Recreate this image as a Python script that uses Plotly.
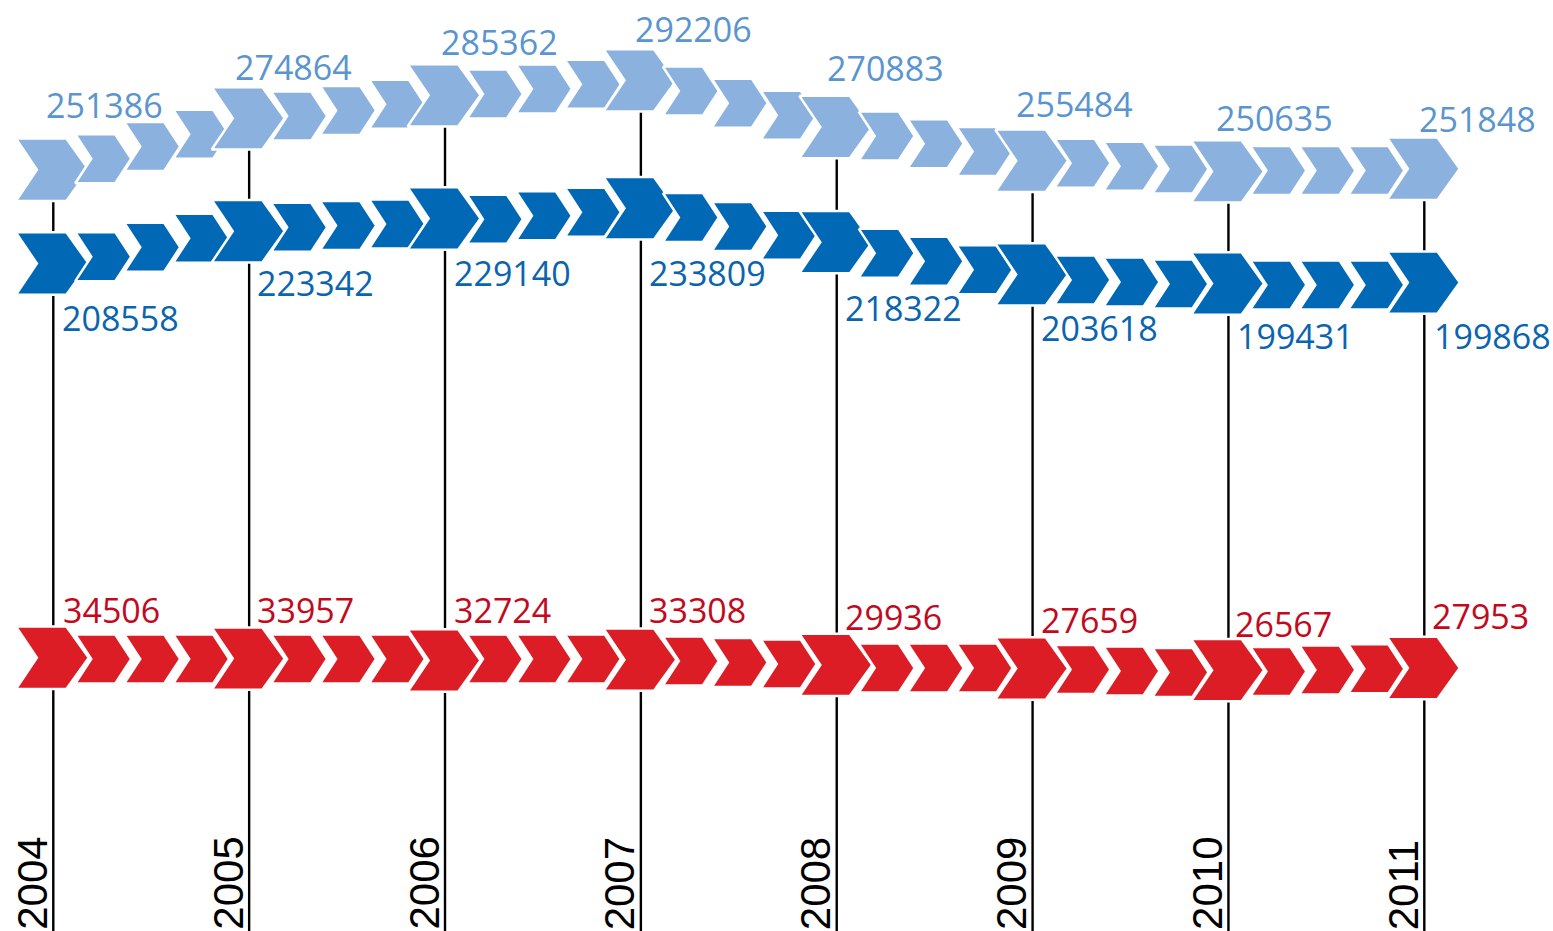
import plotly.graph_objects as go

# ---------------- data ----------------
years = [2004, 2005, 2006, 2007, 2008, 2009, 2010, 2011]
year_labels = ["2004", "2005", "2006", "2007", "2008", "2009", "2010", "2011"]

light_values = [251386, 274864, 285362, 292206, 270883, 255484, 250635, 251848]
dark_values = [208558, 223342, 229140, 233809, 218322, 203618, 199431, 199868]
red_values = [34506, 33957, 32724, 33308, 29936, 27659, 26567, 27953]

# small connector chevrons (3 between each pair of years), levels
light_steps = [256400, 262000, 267600, 275900, 278500, 281300, 286000, 288300, 290400,
               287300, 281800, 276300, 266800, 263300, 259700, 254400, 253000, 251700,
               251000, 251000, 251000]
dark_steps = [211700, 216000, 220100, 225100, 225900, 226600, 228800, 230400, 232000,
              229600, 225500, 221500, 213300, 209600, 205700, 201100, 200100, 199200,
              198800, 198800, 198800]
red_steps = [33700, 33700, 33700, 33700, 33700, 33700, 33700, 33700, 33700,
             32400, 31500, 30500, 27900, 27900, 27900, 27000, 26000, 25100,
             25700, 26700, 27400]

# ---------------- layout / style ----------------
W, H = 1553, 931
X_RANGE = [2003.7279, 2011.6571]
BLUE_RANGE = [-96200, 328900]
RED_RANGE = [-140760, 456420]

LIGHT = "#8BB2DF"
DARK = "#0068B4"
RED = "#DC1D25"
LIGHT_TXT = "#5A95CF"
DARK_TXT = "#0A64AE"
RED_TXT = "#C20A1E"

px_per_year = W / (X_RANGE[1] - X_RANGE[0])
blue_upp = (BLUE_RANGE[1] - BLUE_RANGE[0]) / H
red_upp = (RED_RANGE[1] - RED_RANGE[0]) / H

BIG = dict(l=-37.4, n=-16.4, tr=13.1, tip=35.5, h=31.2)
SMALL = dict(l=-27.0, n=-11.0, tr=13.0, tip=29.0, h=24.5)

# label offsets in pixels (ink left relative to year line, baseline relative to chevron centre)
light_lab_dx = [-6.6, -13.3, -3.3, -5, -9.3, -15.4, -11.4, -5]
light_lab_dy = [-51.5, -38.4, -40.4, -37.7, -46.1, -43.1, -40.7, -36.1]
dark_lab_dx = [9.0, 8.7, 10.0, 8.4, 9.0, 9.0, 9.3, 10.7]
dark_lab_dy = [67.4, 65.5, 67.5, 77.7, 78.8, 66.6, 65.7, 66.7]
red_lab_dx = [10.0, 8.3, 10.0, 8.4, 9.0, 9.0, 7.6, 8.4]
red_lab_dy = [-34.5, -35.3, -37.2, -36.3, -34.2, -35.1, -32.8, -38.7]

VAL_FONT = "Open Sans"
VAL_SIZE = 34
BASELINE_FROM_MID = 13.2
INK_PAD = 2.7


def chevron(xc, yc, g, upp):
    xs_px = [g["l"], g["tr"], g["tip"], g["tr"], g["l"], g["n"], g["l"]]
    ys_px = [g["h"], g["h"], 0, -g["h"], -g["h"], 0, g["h"]]
    xs = [xc + d / px_per_year for d in xs_px]
    ys = [yc + d * upp for d in ys_px]
    return xs, ys


fig = go.Figure()

# vertical year lines (from the top series down to the bottom)
lx, ly = [], []
for yr, v in zip(years, light_values):
    lx += [yr, yr, None]
    ly += [v, BLUE_RANGE[0], None]
fig.add_trace(go.Scatter(x=lx, y=ly, mode="lines", line=dict(color="black", width=2.4),
                         hoverinfo="skip", yaxis="y"))


def add_series(values, steps, color, yaxis, upp):
    for i, yr in enumerate(years):
        xs, ys = chevron(yr, values[i], BIG, upp)
        fig.add_trace(go.Scatter(x=xs, y=ys, mode="lines", fill="toself", fillcolor=color,
                                 line=dict(color="white", width=2.5), hoverinfo="skip",
                                 yaxis=yaxis))
        if i < len(years) - 1:
            for k in range(1, 4):
                xs, ys = chevron(yr + k / 4.0, steps[3 * i + k - 1], SMALL, upp)
                fig.add_trace(go.Scatter(x=xs, y=ys, mode="lines", fill="toself",
                                         fillcolor=color,
                                         line=dict(color="white", width=2.5),
                                         hoverinfo="skip", yaxis=yaxis))


add_series(light_values, light_steps, LIGHT, "y", blue_upp)
add_series(dark_values, dark_steps, DARK, "y", blue_upp)
add_series(red_values, red_steps, RED, "y2", red_upp)

annotations = []


def add_labels(values, dxs, dys, color, yref):
    for yr, v, dx, dy in zip(years, values, dxs, dys):
        annotations.append(dict(
            x=yr, y=v, xref="x", yref=yref, text=str(v), showarrow=False,
            xanchor="left", yanchor="middle",
            xshift=dx - INK_PAD, yshift=-dy + BASELINE_FROM_MID,
            font=dict(family=VAL_FONT, size=VAL_SIZE, color=color)))


add_labels(light_values, light_lab_dx, light_lab_dy, LIGHT_TXT, "y")
add_labels(dark_values, dark_lab_dx, dark_lab_dy, DARK_TXT, "y")
add_labels(red_values, red_lab_dx, red_lab_dy, RED_TXT, "y2")

for yr, lab in zip(years, year_labels):
    annotations.append(dict(
        x=yr, y=0, xref="x", yref="paper", text=lab, showarrow=False,
        textangle=-90, xanchor="center", yanchor="bottom", xshift=-21, yshift=-1,
        font=dict(family="Liberation Sans", size=42, color="black")))

fig.update_layout(
    width=W, height=H, autosize=False,
    margin=dict(l=0, r=0, t=0, b=0, pad=0),
    paper_bgcolor="white", plot_bgcolor="white",
    showlegend=False,
    xaxis=dict(range=X_RANGE, visible=False, fixedrange=True),
    yaxis=dict(range=BLUE_RANGE, visible=False, fixedrange=True),
    yaxis2=dict(range=RED_RANGE, visible=False, overlaying="y", anchor="x",
                fixedrange=True),
    annotations=annotations,
)

fig.write_html("out.html", config={"displayModeBar": False},
               post_script="document.body.style.margin='0';"
                           "document.body.style.overflow='hidden';")
